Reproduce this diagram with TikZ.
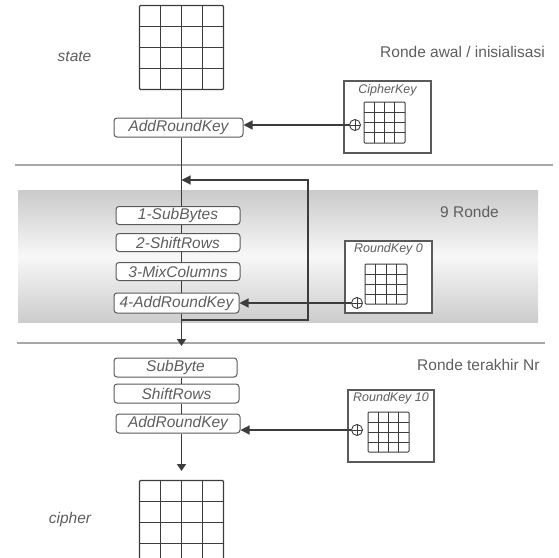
\documentclass[tikz,border=0pt]{standalone}
\usepackage{fontspec}
\setmainfont{Liberation Sans}
\usetikzlibrary{arrows.meta,calc}

\definecolor{inkline}{HTML}{3C3C3C}
\definecolor{boxline}{HTML}{5A5A5A}
\definecolor{labeltext}{HTML}{5E5E5E}
\definecolor{seprule}{HTML}{A8A8A8}
\definecolor{bandgray}{HTML}{CACACA}

\tikzset{
  % 4x4 matrix drawn inside a node; the argument is the rule width
  grid4/.style={draw=inkline, line width=#1, rounded corners=1pt, inner sep=0pt, fill=white,
    path picture={
      \foreach \k in {1,2,3}{
        \draw[inkline, line width=#1]
          ($(path picture bounding box.north west)!\k/4!(path picture bounding box.north east)$) --
          ($(path picture bounding box.south west)!\k/4!(path picture bounding box.south east)$);
        \draw[inkline, line width=#1]
          ($(path picture bounding box.north west)!\k/4!(path picture bounding box.south west)$) --
          ($(path picture bounding box.north east)!\k/4!(path picture bounding box.south east)$);
      }}},
  stepbox/.style={draw=boxline, line width=1pt, rounded corners=3pt, fill=white,
    inner sep=0pt, text=labeltext, font=\fontsize{15.5}{18}\selectfont\itshape},
  keybox/.style={draw=boxline, line width=1.1pt, inner sep=0pt, fill=white},
  keytitle/.style={inner sep=0pt, text=labeltext, font=\fontsize{12.5}{15}\selectfont\itshape},
  oplus/.style={circle, draw=inkline, line width=0.9pt, minimum size=11pt, inner sep=0pt, fill=white,
    path picture={
      \draw[inkline, line width=0.7pt] (path picture bounding box.north) -- (path picture bounding box.south)
        (path picture bounding box.west) -- (path picture bounding box.east);}},
  sidetext/.style={inner sep=0pt, text=labeltext, font=\fontsize{15.5}{18}\selectfont},
  spine/.style={draw=inkline, line width=1.8pt},
  keyarrow/.style={draw=inkline, line width=1.2pt, -{Triangle[length=9pt,width=9pt]}},
  downarrow/.style={draw=inkline, line width=1.8pt, -{Triangle[length=7pt,width=9pt]}},
  separator/.style={draw=seprule, line width=2.6pt},
}

\begin{document}
\begin{tikzpicture}[x=1pt, y=-1pt]
\useasboundingbox (0,0) rectangle (559,557);
\clip (0,0) rectangle (559,557);

% shaded band for the nine middle rounds
\shade[top color=bandgray, bottom color=bandgray!95, middle color=white!97!black]
  (18,190) rectangle (538,322);

% round separators
\draw[separator] (15,165) -- (553,165);
\draw[separator] (17,343) -- (545,343);

% input and output state matrices
\node[grid4=1.1pt, minimum width=84pt, minimum height=84pt] (state) at (181.5,47.5) {};
\node[grid4=1.1pt, minimum width=84pt, minimum height=84pt] (cipher) at (181.5,522.5) {};
\node[sidetext, font=\fontsize{15.5}{18}\selectfont\itshape] (statelbl) at (74.5,57) {state};
\node[sidetext, font=\fontsize{15.5}{18}\selectfont\itshape] (cipherlbl) at (70,519) {cipher};

% initial round
\node[stepbox, minimum width=129pt, minimum height=19pt] (ark0) at (178.5,127.5) {AddRoundKey};
\node[sidetext, anchor=west] (lblinit) at (380,52) {Ronde awal / inisialisasi};
\node[keybox, minimum width=87pt, minimum height=72pt] (ckbox) at (387.5,117) {};
\node[keytitle, anchor=north] (cktitle) at ($(ckbox.north)+(0,4)$) {CipherKey};
\node[grid4=1pt, minimum width=41pt, minimum height=41pt] (ckgrid) at (384.5,122.5) {};
\node[oplus] (ckplus) at (355,125) {};

% nine main rounds
\node[stepbox, minimum width=124pt, minimum height=18pt] (sb) at (178,215.5) {1-SubBytes};
\node[stepbox, minimum width=124pt, minimum height=18pt] (sr) at (178,242.5) {2-ShiftRows};
\node[stepbox, minimum width=124pt, minimum height=18pt] (mc) at (178,271.5) {3-MixColumns};
\node[stepbox, minimum width=125pt, minimum height=20pt] (ark) at (176.5,303) {4-AddRoundKey};
\node[sidetext, anchor=west] (lblnine) at (440,212) {9 Ronde};
\node[keybox, minimum width=87pt, minimum height=72pt] (rk0box) at (388.5,277) {};
\node[keytitle, anchor=north] (rk0title) at ($(rk0box.north)+(0,3)$) {RoundKey 0};
\node[grid4=1pt, minimum width=42pt, minimum height=40pt] (rk0grid) at (386,284) {};
\node[oplus] (rk0plus) at (357,303) {};

% final round
\node[stepbox, minimum width=123pt, minimum height=19pt] (sbf) at (175.5,367.5) {SubByte};
\node[stepbox, minimum width=125pt, minimum height=19pt] (srf) at (176.5,393.5) {ShiftRows};
\node[stepbox, minimum width=124pt, minimum height=19pt] (arkf) at (178,423.5) {AddRoundKey};
\node[sidetext, anchor=west] (lbllast) at (417,365) {Ronde terakhir Nr};
\node[keybox, minimum width=86pt, minimum height=72pt] (rk10box) at (391,426) {};
\node[keytitle, anchor=north] (rk10title) at ($(rk10box.north)+(0,3)$) {RoundKey 10};
\node[grid4=1pt, minimum width=41pt, minimum height=40pt] (rk10grid) at (388.5,432) {};
\node[oplus] (rk10plus) at (357,430) {};

% fixed points on the main data path
\coordinate (loopout) at (state.south |- 0,320);
\coordinate (loopin) at (state.south |- 0,180);
\coordinate (loopcorner1) at (308,320);
\coordinate (loopcorner2) at (308,180);
\coordinate (roundexit) at (state.south |- 0,346);
\coordinate (cipherin) at (state.south |- 0,471);

% main data path
\draw[spine] (state.south) -- (state.south |- ark0.north);
\draw[spine] (state.south |- ark0.south) -- (state.south |- sb.north);
\draw[spine] (state.south |- sb.south) -- (state.south |- sr.north);
\draw[spine] (state.south |- sr.south) -- (state.south |- mc.north);
\draw[spine] (state.south |- mc.south) -- (state.south |- ark.north);
\draw[downarrow] (state.south |- ark.south) -- (roundexit);
\draw[spine] (state.south |- sbf.south) -- (state.south |- srf.north);
\draw[spine] (state.south |- srf.south) -- (state.south |- arkf.north);
\draw[downarrow] (state.south |- arkf.south) -- (cipherin);

% loop back over the nine rounds
\draw[keyarrow, line width=1.1pt] (loopout) -- (loopcorner1) -- (loopcorner2) -- (loopin);

% round keys fed into AddRoundKey
\draw[keyarrow] (ckplus.west) -- (ark0.east |- ckplus.west);
\draw[keyarrow] (rk0plus.west) -- (ark.east |- rk0plus.west);
\draw[keyarrow] (rk10plus.west) -- (arkf.east |- rk10plus.west);
\end{tikzpicture}
\end{document}
